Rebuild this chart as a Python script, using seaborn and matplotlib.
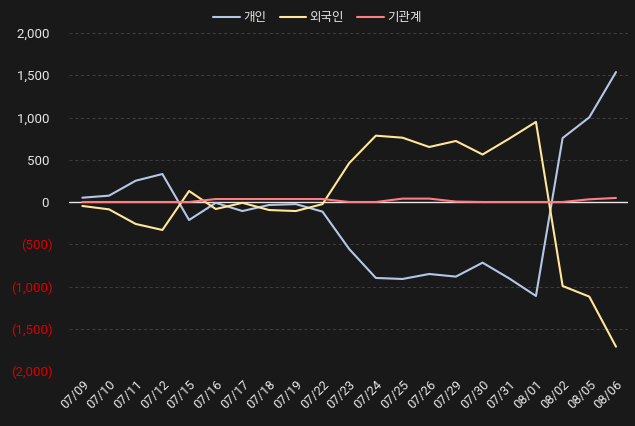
import matplotlib
matplotlib.use("Agg")
import matplotlib.pyplot as plt
import seaborn as sns
import pandas as pd
from matplotlib.ticker import FixedLocator, FuncFormatter

dates = ['07/09', '07/10', '07/11', '07/12', '07/15', '07/16', '07/17', '07/18', '07/19', '07/22',
         '07/23', '07/24', '07/25', '07/26', '07/29', '07/30', '07/31', '08/01', '08/02', '08/05', '08/06']
individual = [51, 75, 252, 331, -213, -10, -107, -35, -25, -114,
              -556, -899, -911, -852, -883, -718, -905, -1112, 757, 1002, 1538]
foreign = [-47, -87, -260, -331, 130, -83, -10, -95, -107, -25,
           460, 785, 761, 651, 722, 562, 750, 948, -994, -1120, -1712]
institution = [0, 0, 0, 0, 0, 35, 35, 35, 35, 35,
               0, 0, 40, 40, 5, 0, 0, 0, 0, 32, 48]
series_names = ['개인', '외국인', '기관계']
y_ticks = [-2000, -1500, -1000, -500, 0, 500, 1000, 1500, 2000]

df = pd.DataFrame({'date': dates, '개인': individual, '외국인': foreign, '기관계': institution})
df['idx'] = range(len(dates))
long = df.melt(id_vars=['date', 'idx'], value_vars=series_names, var_name='구분', value_name='value')

sns.set_theme(style='dark')
plt.rcParams['font.family'] = ['Roboto', 'Noto Sans CJK KR', 'DejaVu Sans']

bg = '#191919'
fig = plt.figure(figsize=(6.35, 4.26), dpi=100, facecolor=bg)
ax = fig.add_axes([69/635, 1 - 371/426, (628 - 69)/635, (371 - 33)/426])
ax.set_facecolor(bg)

palette = {'개인': '#B4C7E7', '외국인': '#FFE699', '기관계': '#FF7C80'}

for y in y_ticks:
    if y != 0:
        ax.axhline(y, color='#3d3d3d', lw=0.75, ls=(0, (3, 2.5)), zorder=0)
ax.axhline(0, color='#e6e6e6', lw=1.0, zorder=1)

sns.lineplot(data=long, x='idx', y='value', hue='구분', palette=palette,
             hue_order=series_names, lw=1.5, ax=ax, zorder=3, legend=True)

ax.set_xlim(-0.5, len(dates) - 0.55)
ax.set_ylim(-2000, 2000)
ax.xaxis.set_major_locator(FixedLocator(range(len(dates))))
ax.set_xticklabels(dates, rotation=45, ha='right', rotation_mode='anchor', color='#e6e6e6',
                   fontsize=9.3, family='Roboto')
ax.yaxis.set_major_locator(FixedLocator(y_ticks))

def fmt(v, pos):
    v = int(round(v))
    if v < 0:
        return f'({abs(v):,})'
    return f'{v:,} '

ax.yaxis.set_major_formatter(FuncFormatter(fmt))
for lbl, v in zip(ax.get_yticklabels(), y_ticks):
    lbl.set_color('#d90000' if v < 0 else '#e6e6e6')
    lbl.set_fontsize(9.5)
    lbl.set_family('Roboto')
ax.tick_params(axis='y', length=0, pad=12)
ax.tick_params(axis='x', length=0, pad=5)
ax.set_xlabel('')
ax.set_ylabel('')
ax.grid(False)
for s in ax.spines.values():
    s.set_visible(False)

handles, labels = ax.get_legend_handles_labels()
ax.get_legend().remove()
leg = fig.legend(handles, labels, loc='center', bbox_to_anchor=(0.5, 1 - 18/426), ncol=3, frameon=False,
                 prop={'family': 'Noto Sans CJK KR', 'size': 9}, labelcolor='#e6e6e6',
                 handlelength=2.15, columnspacing=1.05, handletextpad=0.25)

fig.savefig('out.png', dpi=100, facecolor=bg)
